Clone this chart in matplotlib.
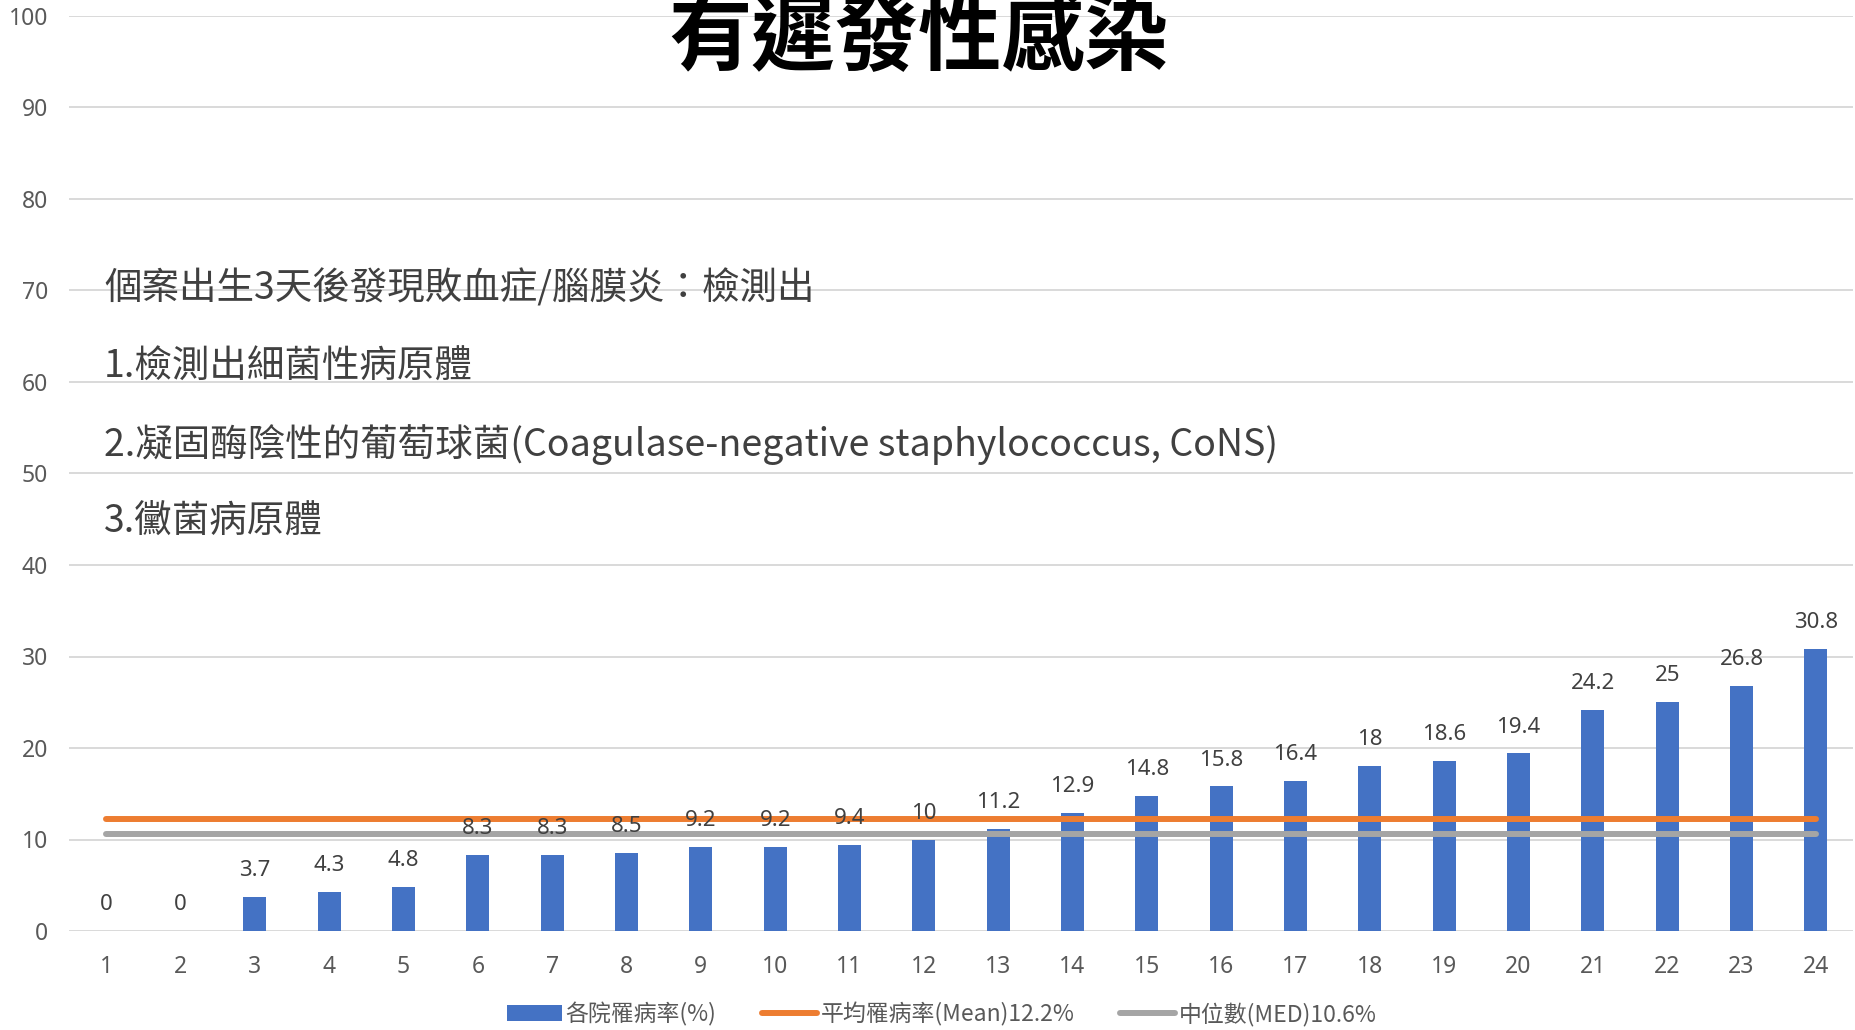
import matplotlib.pyplot as plt
import numpy as np

plt.rcParams['font.family'] = ['Noto Sans CJK TC', 'DejaVu Sans']

hospitals = [str(i) for i in range(1, 25)]
rates = [0, 0, 3.7, 4.3, 4.8, 8.3, 8.3, 8.5, 9.2, 9.2, 9.4, 10, 11.2, 12.9,
         14.8, 15.8, 16.4, 18, 18.6, 19.4, 24.2, 25, 26.8, 30.8]
rate_labels = ['0', '0', '3.7', '4.3', '4.8', '8.3', '8.3', '8.5', '9.2', '9.2',
               '9.4', '10', '11.2', '12.9', '14.8', '15.8', '16.4', '18', '18.6',
               '19.4', '24.2', '25', '26.8', '30.8']
mean_rate = 12.2
median_rate = 10.6
yticks = [0, 10, 20, 30, 40, 50, 60, 70, 80, 90, 100]

title = '有遲發性感染'
notes = ['個案出生3天後發現敗血症/腦膜炎：檢測出',
         '1.檢測出細菌性病原體',
         '2.凝固酶陰性的葡萄球菌(Coagulase-negative staphylococcus, CoNS)',
         '3.黴菌病原體']
legend_names = ['各院罹病率(%)', '平均罹病率(Mean)12.2%', '中位數(MED)10.6%']

BLUE = '#4472C4'
ORANGE = '#ED7D31'
GREY = '#A5A5A5'

fig = plt.figure(figsize=(18.56, 10.30), dpi=100)
ax = fig.add_axes([69 / 1856, 1 - 931 / 1030, (1853 - 69) / 1856, (931 - 16) / 1030])

x = np.arange(len(hospitals))
bars = ax.bar(x, rates, width=0.31, color=BLUE, zorder=2)
mean_line, = ax.plot([x[0], x[-1]], [mean_rate, mean_rate], color=ORANGE, lw=4.3,
                     solid_capstyle='round', zorder=3)
med_line, = ax.plot([x[0], x[-1]], [median_rate, median_rate], color=GREY, lw=4.3,
                    solid_capstyle='round', zorder=3)

for xi, v, lab in zip(x, rates, rate_labels):
    ax.annotate(lab, (xi, v), xytext=(0, 19), textcoords='offset points',
                ha='center', va='center', fontsize=16, color='#404040',
                family=['Noto Sans', 'DejaVu Sans'])

ax.set_xlim(-0.5, len(hospitals) - 0.5)
ax.set_ylim(0, 100)
ax.set_yticks(yticks)
ax.set_xticks(x)
ax.set_xticklabels(hospitals)
for lab in ax.get_xticklabels() + ax.get_yticklabels():
    lab.set_family(['Noto Sans', 'DejaVu Sans'])
    lab.set_fontsize(16.5)
    lab.set_color('#595959')
ax.tick_params(axis='both', length=0)
ax.tick_params(axis='y', pad=15)
ax.tick_params(axis='x', pad=17)
ax.grid(axis='y', color='#D9D9D9', lw=1.4, zorder=0)
for s in ax.spines.values():
    s.set_visible(False)

fig.text(0.495, 1 - 40 / 1030, title, ha='center', va='center', fontsize=60,
         fontweight='bold', color='black')

note_y = [289, 367, 445, 522]
for txt, yy in zip(notes, note_y):
    fig.text(104 / 1856, 1 - yy / 1030, txt, ha='left', va='center',
             fontsize=27, color='#404040')

fig.legend([bars, mean_line, med_line], legend_names, loc='center',
           bbox_to_anchor=(0.5075, 1 - 1014 / 1030), ncol=3, frameon=False,
           fontsize=16.5, handlelength=2.4, handletextpad=0.15, columnspacing=2.0,
           labelcolor='#595959')

fig.savefig('out.png', dpi=100)
